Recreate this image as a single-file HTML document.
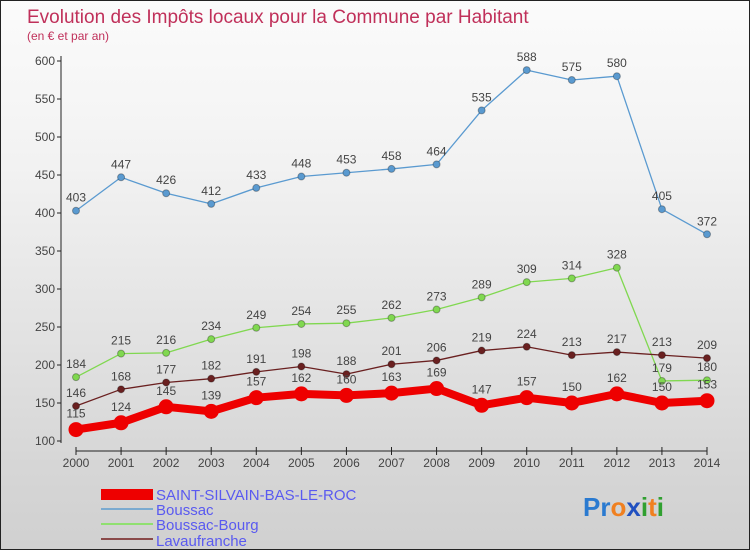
<!DOCTYPE html>
<html><head><meta charset="utf-8"><style>
body{margin:0}
#c{width:750px;height:550px;position:relative;box-sizing:border-box;border:1px solid #222;background:linear-gradient(#fbfbfb,#f2f2f2 30%,#d6d6d6 85%,#d0d0d0);font-family:"Liberation Sans",sans-serif;overflow:hidden}
</style></head><body>
<div id="c">
<svg width="750" height="550" id="s">
<text x="26" y="22" font-size="19" fill="#c0305a">Evolution des Impôts locaux pour la Commune par Habitant</text>
<text x="26" y="39" font-size="12" fill="#c0305a">(en € et par an)</text>
<g id="g"></g>
<g>
<rect x="100" y="488" width="52" height="11" fill="#e00"/>
<text x="155" y="499" font-size="15" fill="#5a5af0">SAINT-SILVAIN-BAS-LE-ROC</text>
<rect x="100" y="507" width="52" height="2" fill="#7aaad0"/>
<text x="155" y="514" font-size="15" fill="#5a5af0">Boussac</text>
<rect x="100" y="522" width="52" height="2" fill="#90e070"/>
<text x="155" y="529" font-size="15" fill="#5a5af0">Boussac-Bourg</text>
<rect x="100" y="537" width="52" height="2" fill="#8a4a4a"/>
<text x="155" y="545" font-size="15" fill="#5a5af0">Lavaufranche</text>
</g>
<text x="582" y="515" font-size="26" font-weight="bold"><tspan fill="#2a7ad0">Pr</tspan><tspan fill="#f08020">o</tspan><tspan fill="#2050c0">x</tspan><tspan fill="#30a030">i</tspan><tspan fill="#f08020">t</tspan><tspan fill="#30a030">i</tspan></text>
</svg>
</div>
<script>
const years=[2000,2001,2002,2003,2004,2005,2006,2007,2008,2009,2010,2011,2012,2013,2014];
const yTicks=[100,150,200,250,300,350,400,450,500,550,600];
const saint=[115,124,145,139,157,162,160,163,169,147,157,150,162,150,153];
const boussac=[403,447,426,412,433,448,453,458,464,535,588,575,580,405,372];
const bourg=[184,215,216,234,249,254,255,262,273,289,309,314,328,179,180];
const lavau=[146,168,177,182,191,198,188,201,206,219,224,213,217,213,209];
const NS="http://www.w3.org/2000/svg";
const g=document.getElementById('g');
const X=i=>75+i*(631/14);
const Y=v=>440-(v-100)*0.76;
function el(t,a,p){const e=document.createElementNS(NS,t);for(const k in a)e.setAttribute(k,a[k]);(p||g).appendChild(e);return e;}
// axes
let ax=el('line',{x1:60,y1:55,x2:60,y2:442,stroke:'#222'});


let xa=el('line',{x1:75,y1:450,x2:706,y2:450,stroke:'#222'});


yTicks.forEach(v=>{
 el('line',{x1:56,x2:60,y1:Y(v),y2:Y(v),stroke:'#222'});
 const t=el('text',{x:54,y:Y(v)+4,'text-anchor':'end','font-size':12,fill:'#444'});
 t.textContent=v;
 
 
});
years.forEach((yr,i)=>{
 el('line',{x1:X(i),x2:X(i),y1:446,y2:454,stroke:'#222'});
 const t=el('text',{x:X(i),y:466,'text-anchor':'middle','font-size':12,fill:'#444'});
 t.textContent=yr;
 
 
});
function series(d,color,w,r,name){
 const p=el('polyline',{points:d.map((v,i)=>X(i)+','+Y(v)).join(' '),fill:'none',stroke:color,'stroke-width':w,'stroke-linejoin':'round'});
 
 
 d.forEach((v,i)=>{
  const c=el('circle',{cx:X(i),cy:Y(v),r:r,fill:color,stroke:'rgba(0,0,0,0.3)','stroke-width':r>5?0:1});
  
  
  const t=el('text',{x:X(i),y:Y(v)-(r>5?12:9),'text-anchor':'middle','font-size':12,fill:'#444'});
  t.textContent=v;
  
  
 });
}
series(boussac,'#5a9ad0',1.3,3.5,'boussac');
series(bourg,'#80d850',1.3,3.5,'boussac-bourg');
series(lavau,'#6a2020',1.3,3.5,'lavaufranche');
series(saint,'#ee0000',8,7.5,'saint-silvain');
</script>
</body></html>
